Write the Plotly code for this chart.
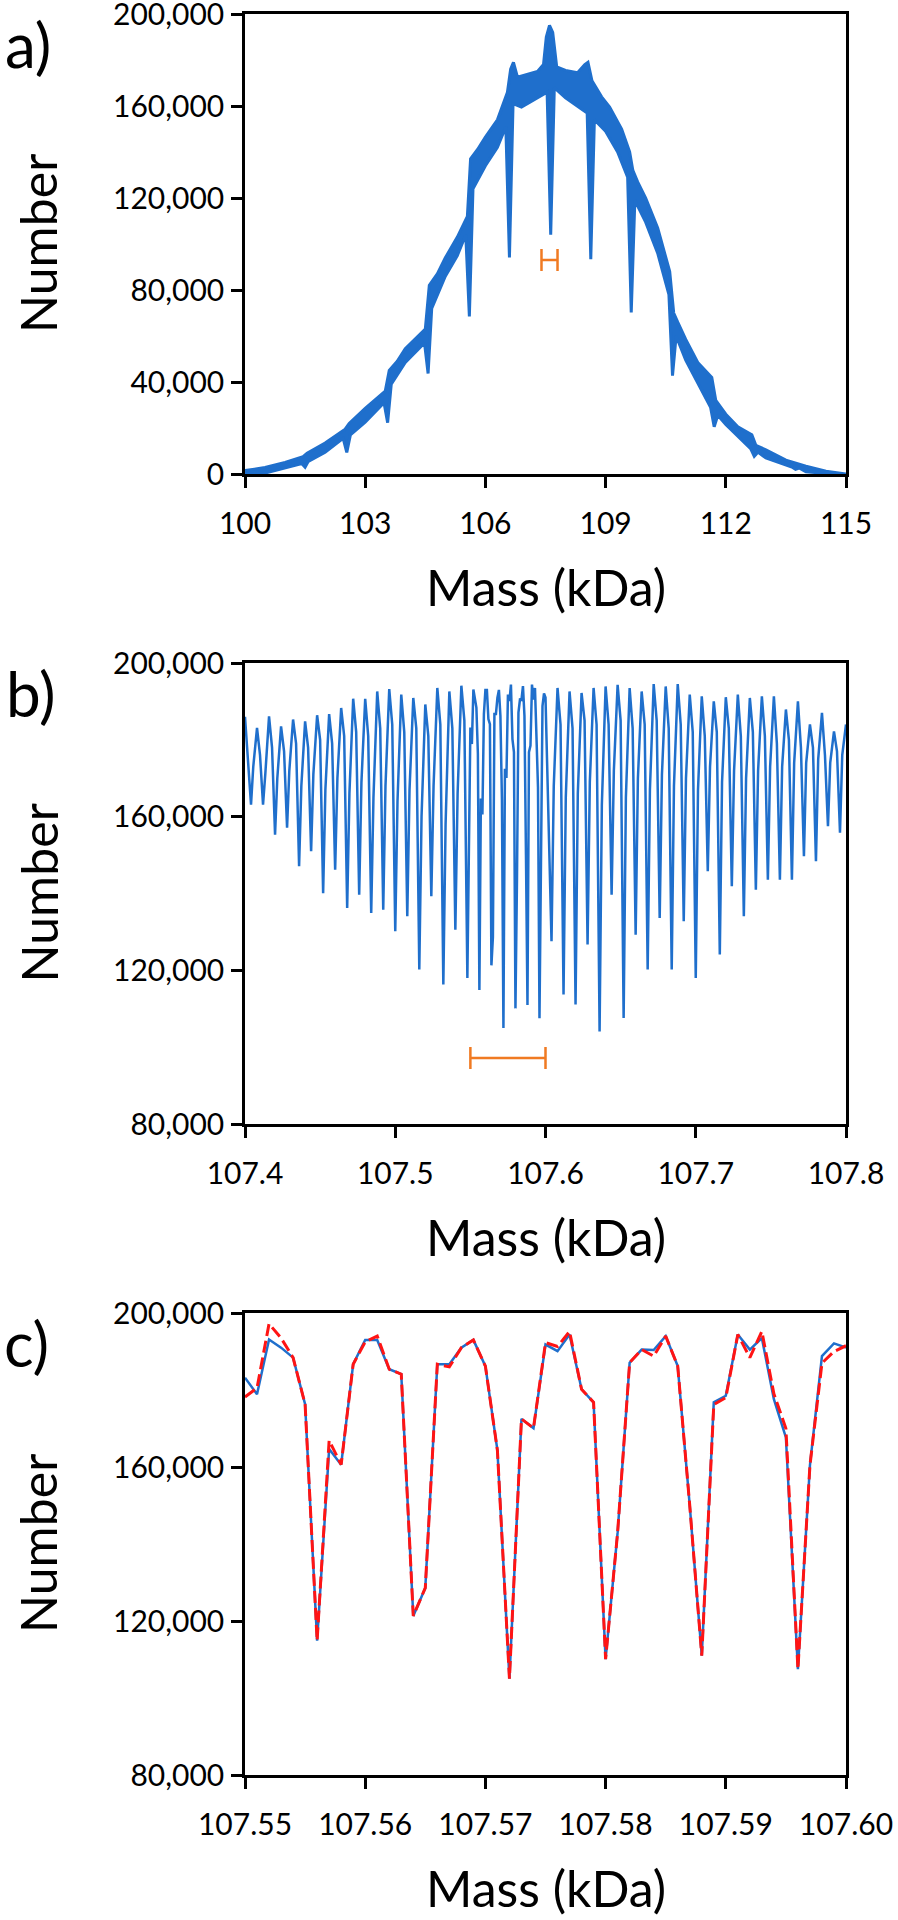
import plotly.graph_objects as go

# ---------------- Panel a: envelope of the full spectrum ----------------
a_upper_x = [100.0, 100.5, 101.0, 101.45, 101.55, 102.0, 102.5, 102.6, 103.0, 103.5, 103.6, 103.8,
             104.0, 104.5, 104.6, 104.8, 105.0, 105.3, 105.55, 105.63, 105.8, 106.0, 106.3, 106.55,
             106.63, 106.7, 106.8, 107.0, 107.3, 107.45, 107.52, 107.6, 107.68, 107.78, 108.0, 108.3,
             108.48, 108.56, 108.66, 108.9, 109.1, 109.4, 109.6, 109.68, 109.8, 110.0, 110.3, 110.6,
             110.7, 110.8, 111.0, 111.3, 111.65, 111.75, 112.0, 112.3, 112.65, 112.75, 113.0, 113.5,
             114.0, 114.5, 115.0]
a_upper_y = [1500, 2800, 5000, 7500, 9000, 13500, 19500, 22000, 28500, 36000, 45000, 49000,
             54500, 63000, 82000, 87000, 94000, 103000, 112000, 137000, 141000, 146500, 154000, 166000,
             176000, 179000, 172500, 173500, 175000, 178000, 190000, 195000, 192000, 177000, 175500, 174500,
             178000, 179000, 171000, 164000, 159500, 150000, 140000, 132000, 127000, 120000, 107000, 88000,
             70000, 66000, 58500, 48500, 42000, 32000, 26000, 20500, 17000, 12500, 10500, 6000,
             3400, 1200, 300]
a_lower_x = [100.0, 100.5, 101.0, 101.42, 101.5, 101.58, 102.0, 102.45, 102.54, 102.63, 103.0, 103.47,
             103.56, 103.65, 104.0, 104.48, 104.57, 104.66, 105.0, 105.3, 105.51, 105.6, 105.69, 106.0,
             106.3, 106.51, 106.6, 106.69, 106.9, 107.2, 107.54, 107.63, 107.72, 108.0, 108.3, 108.54,
             108.63, 108.72, 109.0, 109.3, 109.55, 109.64, 109.73, 110.0, 110.3, 110.58, 110.67, 110.76,
             111.0, 111.3, 111.62, 111.71, 111.8, 112.0, 112.3, 112.62, 112.71, 112.8, 113.0, 113.65,
             113.74, 113.83, 114.0, 114.5, 115.0]
a_lower_y = [0, 400, 2500, 4500, 3000, 5500, 9500, 15500, 9400, 17000, 22500, 31000,
             22300, 39000, 48500, 57000, 43700, 72000, 86000, 95000, 104000, 68500, 124000, 134000,
             142000, 151000, 94200, 161000, 159500, 162500, 166000, 104000, 168000, 163500, 160000, 157000,
             93400, 154000, 149000, 140000, 129000, 70200, 119000, 109500, 96000, 78000, 42800, 60000,
             49500, 39500, 29000, 20500, 25500, 21500, 16300, 11000, 7700, 9500, 7000, 3000,
             2000, 2600, 1000, 200, 0]
a_marker_center = [107.6]
a_marker_half = [0.2]
a_marker_level = [93000]

# ---------------- Panel c: zoomed data (0.001 kDa steps) ----------------
c_mass = [107.550, 107.551, 107.552, 107.553, 107.554, 107.555, 107.556, 107.557, 107.558, 107.559,
          107.560, 107.561, 107.562, 107.563, 107.564, 107.565, 107.566, 107.567, 107.568, 107.569,
          107.570, 107.571, 107.572, 107.573, 107.574, 107.575, 107.576, 107.577, 107.578, 107.579,
          107.580, 107.581, 107.582, 107.583, 107.584, 107.585, 107.586, 107.587, 107.588, 107.589,
          107.590, 107.591, 107.592, 107.593, 107.594, 107.595, 107.596, 107.597, 107.598, 107.599,
          107.600]
c_blue = [183200, 178900, 193100, 191000, 188400, 176300, 114900, 164700, 160600, 186700,
          193000, 193000, 185400, 184100, 121300, 128600, 186700, 186700, 191000, 193000,
          186200, 164300, 105000, 172500, 170100, 191800, 190100, 194400, 180200, 176800,
          110100, 143000, 187100, 190500, 190400, 194000, 186200, 150000, 111000, 176800,
          178500, 194400, 190500, 193500, 177600, 167700, 107500, 160400, 188800, 192100,
          191000]
c_red = [178200, 180500, 197200, 193500, 188400, 176300, 114900, 166900, 160600, 186700,
         192500, 194000, 185400, 184100, 121300, 128600, 186700, 186000, 191000, 193000,
         186200, 164300, 105000, 172500, 170100, 192300, 191300, 195200, 180200, 176800,
         110100, 143000, 187100, 190500, 188800, 194000, 186200, 150000, 111000, 176200,
         178000, 194400, 188400, 195200, 179000, 170000, 107500, 160400, 187000, 190000,
         191500]
c_marker_center = [107.575]
c_marker_half = [0.025]
c_marker_level = [97200]

# ---------------- Panel b: 107.4 - 107.8 kDa ----------------
b_left_mass = [107.400,
               107.404, 107.4055, 107.408, 107.410,
               107.412, 107.4135, 107.416, 107.418,
               107.420, 107.4215, 107.424, 107.426,
               107.428, 107.4295, 107.432, 107.434,
               107.436, 107.4375, 107.440, 107.442,
               107.444, 107.4455, 107.448, 107.450,
               107.452, 107.4535, 107.456, 107.458,
               107.460, 107.4615, 107.464, 107.466,
               107.468, 107.4695, 107.472, 107.474,
               107.476, 107.4775, 107.480, 107.482,
               107.484, 107.4855, 107.488, 107.490,
               107.492, 107.4935, 107.496, 107.498,
               107.500, 107.5015, 107.504, 107.506,
               107.508, 107.5095, 107.512, 107.514,
               107.516, 107.5175, 107.520, 107.522,
               107.524, 107.5255, 107.528, 107.530,
               107.532, 107.5335, 107.536, 107.538,
               107.540, 107.5415, 107.544, 107.546,
               107.548]
b_left_number = [186000,
                 163100, 173000, 183100, 176000,
                 163100, 171000, 186100, 178000,
                 155300, 170000, 183500, 177000,
                 157100, 172000, 185300, 179000,
                 147100, 168000, 184800, 178000,
                 151000, 171000, 186400, 180000,
                 140100, 167000, 186700, 179000,
                 146200, 170000, 188300, 181000,
                 136200, 166000, 190700, 182000,
                 139700, 169000, 190700, 181000,
                 134900, 165000, 192600, 183000,
                 135800, 168000, 193200, 184000,
                 130200, 164000, 191800, 182000,
                 134100, 167000, 190900, 183000,
                 120200, 160000, 189200, 181000,
                 139300, 168000, 193500, 184000,
                 116300, 158000, 192600, 183000,
                 130600, 166000, 194100, 185000,
                 118000]
b_right_mass = [107.604, 107.6055, 107.608, 107.610,
                107.612, 107.6135, 107.616, 107.618,
                107.620, 107.6215, 107.624, 107.626,
                107.628, 107.6295, 107.632, 107.634,
                107.636, 107.6375, 107.640, 107.642,
                107.644, 107.6455, 107.648, 107.650,
                107.652, 107.6535, 107.656, 107.658,
                107.660, 107.6615, 107.664, 107.666,
                107.668, 107.6695, 107.672, 107.674,
                107.676, 107.6775, 107.680, 107.682,
                107.684, 107.6855, 107.688, 107.690,
                107.692, 107.6935, 107.696, 107.698,
                107.700, 107.7015, 107.704, 107.706,
                107.708, 107.7095, 107.712, 107.714,
                107.716, 107.7175, 107.720, 107.722,
                107.724, 107.7255, 107.728, 107.730,
                107.732, 107.7335, 107.736, 107.738,
                107.740, 107.7415, 107.744, 107.746,
                107.748, 107.7495, 107.752, 107.754,
                107.756, 107.7575, 107.760, 107.762,
                107.764, 107.7655, 107.768, 107.770,
                107.772, 107.7735, 107.776, 107.778,
                107.780, 107.7815, 107.784, 107.786,
                107.788, 107.7895, 107.792, 107.794,
                107.796, 107.7975, 107.800]
b_right_number = [127600, 168000, 193500, 184000,
                  113700, 165000, 192600, 183000,
                  111100, 166000, 192200, 185000,
                  126700, 169000, 193500, 184000,
                  104100, 163000, 193900, 184000,
                  139700, 172000, 194300, 185000,
                  107600, 165000, 193500, 183000,
                  129300, 170000, 192600, 184000,
                  120200, 167000, 194500, 185000,
                  133600, 171000, 193900, 183000,
                  120200, 168000, 194500, 184000,
                  132800, 170000, 191800, 182000,
                  118000, 167000, 191300, 181000,
                  145800, 173000, 190000, 182000,
                  124100, 169000, 191100, 183000,
                  141900, 172000, 191800, 181000,
                  134100, 170000, 190900, 182000,
                  141000, 172000, 191300, 181000,
                  143600, 173000, 191300, 179000,
                  143600, 173000, 187900, 180000,
                  143600, 174000, 190000, 178000,
                  149700, 174000, 184000, 178000,
                  148400, 175000, 187000, 176000,
                  157500, 174000, 182200, 177000,
                  155800, 176000, 184000]

b_mass = b_left_mass + c_mass + b_right_mass
b_number = b_left_number + c_blue + b_right_number

a_ticks = [100, 103, 106, 109, 112, 115]
a_yticks = [0, 40000, 80000, 120000, 160000, 200000]
b_ticks = [107.4, 107.5, 107.6, 107.7, 107.8]
c_ticks = [107.55, 107.56, 107.57, 107.58, 107.59, 107.60]
bc_yticks = [80000, 120000, 160000, 200000]

BLUE = "#1F6FCC"
ORANGE = "#F07A22"
RED = "#FF1414"
FONT = "Lato"
W, H = 898, 1920

fig = go.Figure()

# Panel a band
fig.add_trace(go.Scatter(
    x=a_upper_x + a_lower_x[::-1], y=a_upper_y + a_lower_y[::-1],
    mode="lines", fill="toself", fillcolor=BLUE,
    line=dict(color=BLUE, width=3), xaxis="x", yaxis="y", hoverinfo="skip"))
fig.add_trace(go.Scatter(
    x=a_marker_center, y=a_marker_level, mode="markers",
    marker=dict(size=2, color="rgba(0,0,0,0)"),
    error_x=dict(type="data", array=a_marker_half, symmetric=True,
                 color=ORANGE, thickness=2.5, width=11),
    xaxis="x", yaxis="y"))

# Panel b
fig.add_trace(go.Scatter(
    x=b_mass, y=b_number, mode="lines",
    line=dict(color=BLUE, width=2.5), xaxis="x2", yaxis="y2"))
fig.add_trace(go.Scatter(
    x=c_marker_center, y=c_marker_level, mode="markers",
    marker=dict(size=2, color="rgba(0,0,0,0)"),
    error_x=dict(type="data", array=c_marker_half, symmetric=True,
                 color=ORANGE, thickness=2.5, width=11),
    xaxis="x2", yaxis="y2"))

# Panel c
fig.add_trace(go.Scatter(
    x=c_mass, y=c_blue, mode="lines",
    line=dict(color=BLUE, width=2.5), xaxis="x3", yaxis="y3"))
fig.add_trace(go.Scatter(
    x=c_mass, y=c_red, mode="lines",
    line=dict(color=RED, width=3, dash="12px,5px"), xaxis="x3", yaxis="y3"))

xdom = [245 / W, 846 / W]
ydoms = [[1 - 474 / H, 1 - 14 / H], [1 - 1124 / H, 1 - 663 / H], [1 - 1775 / H, 1 - 1313 / H]]

common = dict(showline=True, linecolor="black", linewidth=2.5, mirror=True,
              ticks="outside", ticklen=11, tickwidth=2.5, tickcolor="black",
              showgrid=False, zeroline=False, automargin=False, ticklabeloverflow="allow",
              tickfont=dict(family=FONT, size=30, color="black"))

fig.update_layout(
    template="none",
    width=W, height=H, margin=dict(l=0, r=0, t=0, b=0, pad=0),
    paper_bgcolor="white", plot_bgcolor="white", showlegend=False,
    font=dict(family=FONT, color="black"),
    xaxis=dict(domain=xdom, anchor="y", range=[100, 115], tickvals=a_ticks,
               ticklabelstandoff=10, **common),
    yaxis=dict(domain=ydoms[0], anchor="x", range=[0, 200000], tickvals=a_yticks,
               tickformat=",", ticklabelstandoff=1, **common),
    xaxis2=dict(domain=xdom, anchor="y2", range=[107.4, 107.8], tickvals=b_ticks,
                tickformat=".1f", ticklabelstandoff=10, **common),
    yaxis2=dict(domain=ydoms[1], anchor="x2", range=[80000, 200000], tickvals=bc_yticks,
                tickformat=",", ticklabelstandoff=1, **common),
    xaxis3=dict(domain=xdom, anchor="y3", range=[107.55, 107.60], tickvals=c_ticks,
                tickformat=".2f", ticklabelstandoff=10, **common),
    yaxis3=dict(domain=ydoms[2], anchor="x3", range=[80000, 200000], tickvals=bc_yticks,
                tickformat=",", ticklabelstandoff=1, **common),
)

annos = []
panel_tops = [14, 663, 1313]
panel_bottoms = [474, 1124, 1775]
for lab, top, bot, lx in zip(["a)", "b)", "c)"], panel_tops, panel_bottoms, [28, 30, 26]):
    annos.append(dict(text=lab, x=lx / W, y=1 - (top + 30) / H, xref="paper", yref="paper",
                      xanchor="center", yanchor="middle", showarrow=False,
                      font=dict(family=FONT, size=62, color="black")))
    annos.append(dict(text="Number", x=38 / W, y=1 - ((top + bot) / 2) / H, xref="paper", yref="paper",
                      xanchor="center", yanchor="middle", showarrow=False, textangle=-90,
                      font=dict(family=FONT, size=50, color="black")))
    annos.append(dict(text="Mass (kDa)", x=546 / W, y=1 - (bot + 113) / H, xref="paper", yref="paper",
                      xanchor="center", yanchor="middle", showarrow=False,
                      font=dict(family=FONT, size=50, color="black")))
fig.update_layout(annotations=annos)

fig.write_html("out.html", config={"displayModeBar": False},
               post_script="document.body.style.margin='0';document.body.style.overflow='hidden';")
